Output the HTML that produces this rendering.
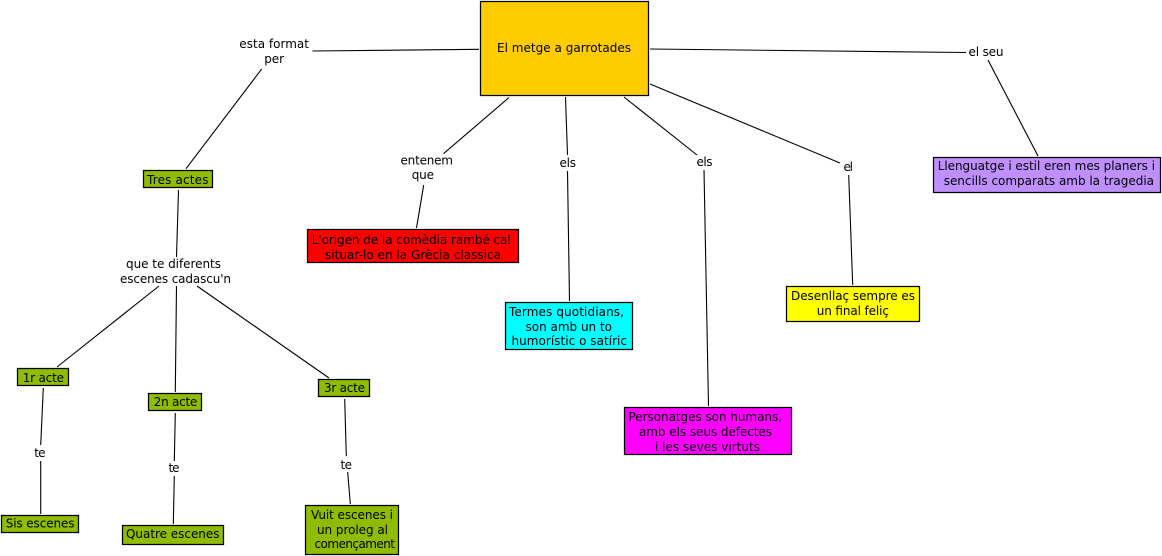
<!DOCTYPE html>
<html>
<head>
<meta charset="utf-8">
<style>
html,body{margin:0;padding:0;background:#fff;width:1162px;height:556px;overflow:hidden}
svg{display:block}
text{font-family:"DejaVu Sans","Liberation Sans",sans-serif;font-size:12px;fill:#000}
rect{stroke:#000;stroke-width:1.25}
line{stroke:#000;stroke-width:1.1}
</style>
</head>
<body>
<svg width="1162" height="556" viewBox="0 0 1162 556" xmlns="http://www.w3.org/2000/svg">
<line x1="312.5" y1="51" x2="479" y2="49.3"/>
<line x1="261.7" y1="69" x2="186" y2="168.7"/>
<line x1="178.5" y1="190" x2="176.5" y2="257"/>
<line x1="509" y1="97.5" x2="443.5" y2="153.7"/>
<line x1="423.7" y1="185" x2="416.5" y2="228"/>
<line x1="565.5" y1="97" x2="567.5" y2="155"/>
<line x1="567.5" y1="171" x2="569.5" y2="301"/>
<line x1="624" y1="97" x2="697" y2="155"/>
<line x1="704" y1="170" x2="708.5" y2="406"/>
<line x1="650" y1="84" x2="840" y2="163"/>
<line x1="848.7" y1="175" x2="852.7" y2="285"/>
<line x1="650" y1="49" x2="966" y2="52.5"/>
<line x1="988" y1="60" x2="1038" y2="156"/>
<line x1="159" y1="286" x2="57" y2="367"/>
<line x1="176.5" y1="286" x2="175.3" y2="392"/>
<line x1="197" y1="286" x2="329" y2="378"/>
<line x1="43.3" y1="388" x2="40.7" y2="445"/>
<line x1="40.7" y1="461" x2="40.7" y2="514"/>
<line x1="175.3" y1="413" x2="174.3" y2="461"/>
<line x1="174.3" y1="476" x2="173.3" y2="524"/>
<line x1="344.7" y1="399" x2="346.3" y2="456"/>
<line x1="347.7" y1="472" x2="350.3" y2="504"/>

<rect x="480.5" y="1.5" width="168" height="94" fill="#FFCC00"/>
<rect x="143.5" y="170.5" width="69" height="17" fill="#8FBC00"/>
<rect x="307.5" y="229.5" width="211" height="33" fill="#FF0000"/>
<rect x="17.5" y="368.5" width="51" height="17" fill="#8FBC00"/>
<rect x="148.5" y="393.5" width="53" height="17" fill="#8FBC00"/>
<rect x="318.5" y="379.5" width="51" height="17" fill="#8FBC00"/>
<rect x="1.5" y="515.5" width="77" height="17" fill="#8FBC00"/>
<rect x="122.5" y="525.5" width="101" height="19" fill="#8FBC00"/>
<rect x="305.5" y="505.5" width="93" height="49" fill="#8FBC00"/>
<rect x="505.5" y="302.5" width="127" height="47" fill="#00FFFF"/>
<rect x="624.5" y="407.5" width="167" height="47" fill="#FF00FF"/>
<rect x="786.5" y="286.5" width="133" height="35" fill="#FFFF00"/>
<rect x="933.5" y="157.5" width="227" height="35" fill="#BF8FFF"/>

<text x="497" y="52" textLength="134">El metge a garrotades</text>
<text x="239.3" y="48" textLength="69.7">esta format</text>
<text x="264.3" y="63" textLength="19.7">per</text>
<text x="400.5" y="164.5" textLength="52.5">entenem</text>
<text x="411.7" y="179" textLength="22.3">que</text>
<text x="559.5" y="167" textLength="16.5">els</text>
<text x="696.5" y="166" textLength="16">els</text>
<text x="843.5" y="171" textLength="9.5">el</text>
<text x="968.5" y="56" textLength="35">el seu</text>
<text x="147" y="184" textLength="61.5">Tres actes</text>
<text x="311.7" y="244" textLength="199">L'origen de la comèdia rambé cal</text>
<text x="325" y="259" textLength="176">situar-lo en la Grècia classica</text>
<text x="126" y="268" textLength="95">que te diferents</text>
<text x="120" y="283" textLength="111">escenes cadascu'n</text>
<text x="22.7" y="382" textLength="41.3">1r acte</text>
<text x="153.7" y="406" textLength="43.6">2n acte</text>
<text x="324" y="392" textLength="41">3r acte</text>
<text x="34.3" y="457" textLength="11.2">te</text>
<text x="168.5" y="472" textLength="11">te</text>
<text x="340.5" y="469" textLength="11.5">te</text>
<text x="5.7" y="527.5" textLength="68.8">Sis escenes</text>
<text x="126" y="538" textLength="93.5">Quatre escenes</text>
<text x="311" y="519" textLength="82">Vuit escenes i</text>
<text x="317" y="534" textLength="71">un proleg al</text>
<text x="314.5" y="548" textLength="80.5">començament</text>
<text x="509" y="316" textLength="115">Termes quotidians,</text>
<text x="525.5" y="331" textLength="86.5">son amb un to</text>
<text x="511.5" y="345" textLength="115.5">humorístic o satíric</text>
<text x="628.5" y="421" textLength="153.5">Personatges son humans,</text>
<text x="639" y="436" textLength="133">amb els seus defectes</text>
<text x="655" y="451" textLength="105">i les seves virtuts</text>
<text x="791" y="300" textLength="124">Desenllaç sempre es</text>
<text x="816.7" y="315" textLength="72.3">un final feliç</text>
<text x="937.7" y="170" textLength="217.3">Llenguatge i estil eren mes planers i</text>
<text x="943.7" y="185" textLength="210.3">sencills comparats amb la tragedia</text>
</svg>
</body>
</html>
